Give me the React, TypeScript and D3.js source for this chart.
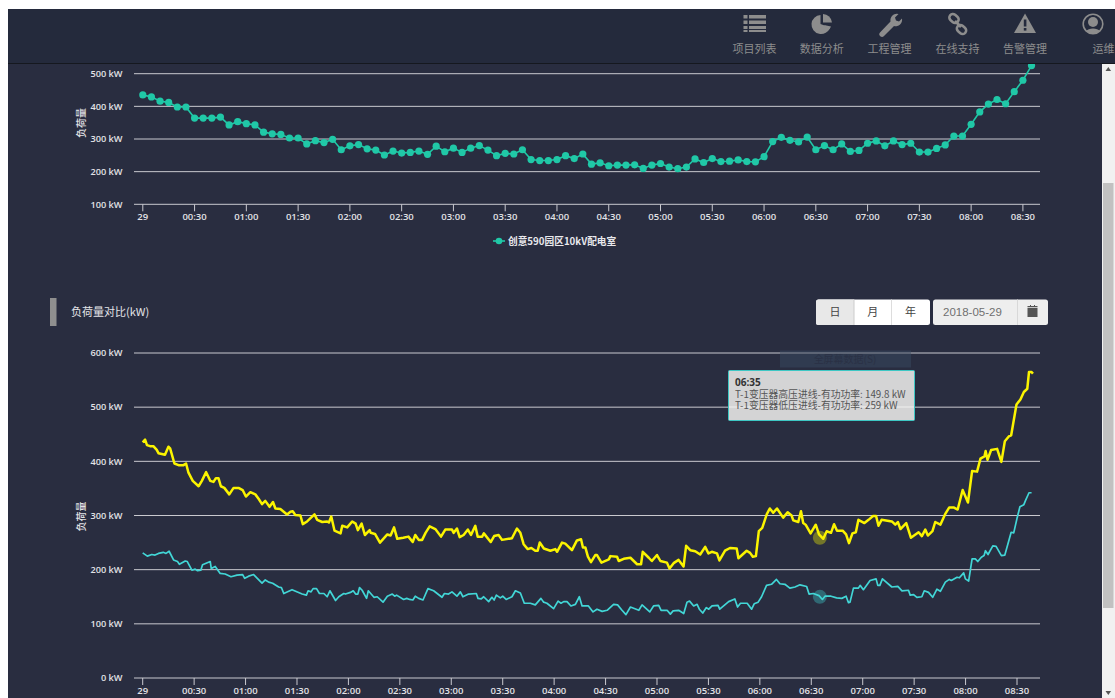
import React from "react";
import * as d3 from "d3";

const FONT = '"Open Sans","Noto Sans CJK SC",sans-serif';
const CJK = '"Noto Sans CJK SC","Open Sans",sans-serif';

const navLabels = ["项目列表", "数据分析", "工程管理", "在线支持", "告警管理", "运维"];
const topYTicks = [100, 200, 300, 400, 500];
const bottomYTicks = [0, 100, 200, 300, 400, 500, 600];
const xTickLabels = ["29", "00:30", "01:00", "01:30", "02:00", "02:30", "03:00", "03:30", "04:00", "04:30", "05:00", "05:30", "06:00", "06:30", "07:00", "07:30", "08:00", "08:30"];
const topName = "创意590园区10kV配电室";
const rangeButtons = ["日", "月", "年"];
const dateText = "2018-05-29";
const tooltipLines = ["06:35", "T-1变压器高压进线-有功功率: 149.8 kW", "T-1变压器低压进线-有功功率: 259 kW"];

// 5-minute load, top chart
const topValues = [435, 429, 416, 412, 398, 398, 364, 364, 364, 367, 343, 353, 347, 343, 321, 316, 314, 303, 303, 285, 295, 289, 299, 267, 279, 283, 270, 266, 251, 263, 257, 259, 263, 253, 278, 261, 272, 259, 272, 280, 266, 249, 256, 254, 267, 237, 234, 234, 237, 249, 240, 254, 223, 227, 218, 220, 220, 221, 210, 220, 225, 214, 209, 214, 239, 228, 240, 231, 232, 236, 231, 230, 246, 292, 305, 296, 291, 306, 267, 280, 267, 285, 262, 265, 287, 294, 279, 294, 283, 287, 260, 260, 271, 282, 309, 309, 345, 383, 407, 421, 408, 445, 480, 525];

// vertices: minutes after midnight, kW
const yellowMinutes = [0, 1.4, 2.5, 4.3, 6.2, 8.2, 9.2, 13, 15, 16, 18.5, 20.9, 23.8, 25.3, 26.7, 29.2, 32.6, 34.5, 37, 39.4, 41.3, 42.7, 44.2, 45.6, 47.6, 50.5, 53, 55.9, 58.3, 60.2, 62.8, 65.7, 67.6, 69.6, 71.5, 74, 76, 77.4, 80.3, 84.2, 86.2, 87.5, 89, 92, 93.4, 95.9, 100.2, 101.8, 104.7, 107.6, 108.6, 110, 111.9, 115.4, 116.4, 119.3, 122.2, 124.2, 125.5, 127.7, 129.6, 132.4, 133, 135.5, 138.4, 142.7, 144.6, 146.6, 148.5, 152, 155, 157.5, 159, 161, 163, 165, 167.4, 170.7, 174, 176.5, 180.4, 181.4, 183.3, 184.9, 187.2, 189.7, 191.5, 194, 195.4, 198, 199, 203, 205, 207.6, 209.6, 215.4, 218.3, 220.3, 222.2, 224.6, 226.7, 229, 230.4, 231.6, 234, 237.8, 240.7, 241.7, 244.6, 246.5, 250.4, 253.3, 255.7, 256.8, 258.2, 259.7, 261.5, 264, 265, 267.6, 271.9, 272.8, 276.7, 277.7, 280.6, 284.5, 288.4, 290.7, 291.7, 295.2, 297, 300, 302, 305.8, 307.3, 309.7, 312.6, 315.5, 317, 319.4, 322.3, 325.2, 328.1, 330, 332, 335, 336.4, 339.7, 342.6, 346.5, 347.5, 352.3, 354.3, 355.9, 357.7, 359.4, 361.4, 364, 365.8, 367.8, 370, 373.6, 376.2, 378.5, 379.5, 382.4, 384, 385.3, 386.7, 389.6, 392.6, 394.5, 397, 399, 401.5, 403.3, 405, 408.3, 410.3, 412, 414, 416, 417.5, 421, 423.4, 426, 427.8, 429.2, 431, 437, 439, 440.5, 442, 445.4, 448.1, 452.6, 454.5, 456.5, 458, 460.7, 462.3, 465.3, 468, 470.5, 473, 475.4, 478.3, 481.4, 483.8, 486.7, 488.7, 491, 491.7, 492.8, 494.9, 498.4, 500.9, 502.9, 505.2, 506.6, 509.7, 512, 514, 516, 517, 518.5, 519.3];
const yellowValues = [435, 440, 430, 428, 428, 421, 415, 412, 427, 424, 396, 393, 393, 396, 379, 364, 354, 364, 380, 364, 362, 369, 369, 354, 351, 339, 351, 351, 347, 335, 343, 339, 331, 321, 327, 316, 325, 313, 312, 302, 307, 308, 301, 300, 284, 289, 302, 292, 288, 289, 287, 298, 272, 267, 281, 278, 289, 285, 273, 285, 264, 273, 268, 266, 250, 265, 263, 278, 257, 259, 261, 251, 264, 255, 255, 268, 280, 275, 261, 274, 274, 268, 276, 260, 264, 274, 264, 281, 261, 261, 267, 251, 262, 264, 255, 258, 276, 268, 247, 238, 240, 235, 235, 250, 239, 235, 238, 233, 250, 248, 236, 254, 256, 241, 241, 224, 214, 227, 227, 213, 219, 225, 224, 216, 220, 222, 210, 210, 233, 222, 216, 227, 216, 213, 202, 212, 218, 206, 244, 236, 234, 228, 242, 230, 233, 230, 217, 235, 240, 239, 221, 235, 231, 224, 225, 271, 277, 302, 313, 305, 313, 296, 306, 300, 291, 288, 308, 286, 283, 267, 283, 265, 257, 271, 268, 284, 272, 272, 265, 249, 267, 269, 292, 286, 292, 299, 299, 281, 292, 289, 283, 288, 275, 286, 259, 269, 262, 274, 263, 271, 288, 283, 302, 315, 315, 311, 347, 324, 382, 381, 405, 409, 419, 403, 421, 423, 399, 437, 446, 448, 505, 514, 528, 534, 565, 565, 562];

const cyanMinutes = [0, 2.7, 5.3, 7.2, 9.2, 12, 13.6, 15.4, 18, 20.3, 21.4, 24.8, 26, 28.7, 30.6, 32, 33.9, 34.9, 39.4, 40, 42.3, 45.2, 48.1, 51.5, 55, 58.3, 59.5, 61.8, 64.7, 69.6, 71.5, 73.5, 75.8, 79.3, 80.9, 82.3, 87.1, 93, 95.5, 96.5, 98.2, 99.4, 101.4, 103.1, 105.7, 107.6, 109.2, 112.5, 114.4, 117.3, 118.3, 121.2, 122.8, 124.2, 125.5, 126.5, 128, 130.6, 131.6, 134.9, 136.8, 140.2, 142.7, 145.6, 147, 148.1, 152.2, 154, 155.7, 157.6, 159, 161, 163.5, 166.4, 169.7, 174.6, 176, 178.4, 180.4, 183.3, 185.3, 186.8, 190.1, 194.6, 195.6, 197.5, 198.9, 201.8, 203.7, 205, 206.3, 208.6, 210, 212, 215.4, 217.4, 220.3, 222.6, 226.1, 229, 232.3, 233.9, 235.8, 239.7, 242.3, 244, 245.6, 247.5, 249.8, 252.4, 254.7, 256.3, 260, 262.7, 265, 268, 270.9, 274.7, 277, 279.6, 281.9, 284.5, 289.4, 291.3, 295.8, 298, 301, 302.4, 305.9, 307.8, 309.4, 312.6, 315.6, 317.5, 319, 321.4, 323.4, 324.7, 326.7, 328.8, 330.2, 332.1, 335.6, 336.6, 339.9, 341.8, 345.4, 347, 348.7, 352.6, 355.2, 356.7, 359, 361, 363.9, 366.8, 369.7, 371.7, 374.6, 377.5, 380.5, 383.4, 387.3, 388.7, 391.2, 394.5, 396.5, 398, 401.5, 404.8, 407.8, 410.3, 411.7, 412.6, 414.6, 417.5, 418.5, 420.4, 424.3, 427.8, 428.8, 430, 431.5, 437, 440.5, 442.9, 446.7, 447.7, 449.7, 451.6, 454.5, 455.9, 458.4, 460.8, 463.3, 465.3, 468.2, 470.5, 471.7, 475, 476.4, 478.9, 479.9, 481.8, 483.8, 485.7, 487.1, 489.2, 490.8, 491.6, 493.1, 495.9, 497.8, 500.9, 502.9, 506.6, 508.1, 510.1, 511.7, 514, 515, 517, 518.5];
const cyanValues = [231, 225, 228, 227, 230, 232, 230, 234, 218, 215, 210, 216, 215, 199, 201, 198, 199, 209, 215, 202, 206, 193, 192, 187, 190, 191, 184, 188, 191, 175, 181, 177, 175, 168, 167, 156, 163, 155, 153, 161, 159, 165, 165, 156, 156, 150, 161, 143, 150, 156, 155, 158, 161, 155, 155, 167, 162, 147, 161, 149, 150, 140, 151, 155, 151, 153, 145, 147, 145, 144, 151, 147, 144, 165, 161, 149, 156, 155, 159, 151, 159, 150, 155, 156, 147, 146, 150, 141, 149, 144, 153, 148, 151, 145, 150, 161, 157, 138, 138, 135, 147, 140, 138, 128, 142, 138, 141, 141, 133, 136, 150, 133, 133, 122, 127, 123, 125, 136, 135, 125, 117, 131, 125, 135, 122, 133, 134, 125, 125, 118, 124, 125, 119, 140, 142, 133, 136, 127, 120, 130, 127, 133, 134, 127, 136, 141, 146, 131, 138, 138, 127, 137, 140, 150, 171, 173, 182, 174, 173, 166, 168, 172, 169, 155, 156, 152, 145, 151, 151, 148, 147, 151, 139, 140, 166, 166, 171, 163, 180, 183, 171, 171, 183, 168, 169, 161, 162, 153, 154, 149, 150, 161, 158, 149, 164, 160, 177, 182, 180, 186, 185, 194, 183, 179, 220, 220, 215, 223, 226, 235, 228, 244, 243, 226, 227, 269, 268, 296, 316, 320, 328, 342, 342];

const hoverMinute = 395;
const hoverValues = [259, 149.8];

const W = 1115, H = 698;
const HEAD = "#242a3c", BODY = "#292d40", GRID = "#c9c9cf", TXT = "#e2e2e6", NAV = "#8d8d8d";

export default function App() {
  // scales
  const xTop = d3.scaleLinear().domain([0, 510]).range([142.8, 1022.9]);
  const yTop = d3.scaleLinear().domain([100, 500]).range([204.3, 73.7]);
  const xBot = d3.scaleLinear().domain([0, 510]).range([142.7, 1017]);
  const yBot = d3.scaleLinear().domain([0, 600]).range([678, 353]);
  const topPath = d3.line<number>().x((_, i) => xTop(i * 5)).y((d) => yTop(d))(topValues) ?? "";
  const yellowPath = d3.line<number>().x((m) => xBot(m)).y((_, i) => yBot(yellowValues[i]))(yellowMinutes) ?? "";
  const cyanPath = d3.line<number>().x((m) => xBot(m)).y((_, i) => yBot(cyanValues[i]))(cyanMinutes) ?? "";

  const axisText = { fontFamily: FONT, fontSize: 9.5, fontWeight: 600, fill: TXT } as const;

  const renderAxes = (
    x: d3.ScaleLinear<number, number>,
    y: d3.ScaleLinear<number, number>,
    ticks: number[],
    base: number,
    titleY: number
  ) => (
    <g>
      {ticks.map((t) => (
        <g key={t}>
          <line x1={134} x2={1040} y1={y(t)} y2={y(t)} stroke={GRID} strokeWidth={1} />
          <text x={122.5} y={y(t) + 3.3} textAnchor="end" {...axisText} fontSize={9.2}>{t} kW</text>
        </g>
      ))}
      {xTickLabels.map((l, i) => (
        <g key={l}>
          <line x1={x(i * 30)} x2={x(i * 30)} y1={base} y2={base + 7} stroke={GRID} />
          <text x={x(i * 30)} y={base + 15.5} textAnchor="middle" {...axisText}>{l}</text>
        </g>
      ))}
      <text
        transform={`translate(85,${titleY}) rotate(-90)`}
        textAnchor="middle"
        style={{ fontFamily: CJK, fontSize: 10, fontWeight: 500, fill: TXT }}
      >负荷量</text>
    </g>
  );

  return (
    <svg width={W} height={H} style={{ position: "fixed", left: 0, top: 0, display: "block" }}>
      <rect width={W} height={H} fill="#fff" />
      <rect x={8} y={9} width={W - 8} height={H - 9} fill={BODY} />

      {/* top chart */}
      {renderAxes(xTop, yTop, topYTicks, 204.3, 123)}
      <path d={topPath} fill="none" stroke="#20c8a7" strokeWidth={1.6} />
      {topValues.map((v, i) => (
        <circle key={i} cx={xTop(i * 5)} cy={yTop(v)} r={3.6} fill="#20c8a7" />
      ))}
      <line x1={493} x2={505} y1={241} y2={241} stroke="#20c8a7" strokeWidth={1.6} />
      <circle cx={499} cy={241} r={3.3} fill="#20c8a7" />
      <text x={508} y={244.5} style={{ fontFamily: CJK, fontSize: 9.7, fontWeight: 700, fill: "#e8e8ec" }}>{topName}</text>

      {/* section heading */}
      <rect x={50} y={298} width={6.5} height={28} fill="#8f8f8f" />
      <text x={71} y={316} style={{ fontFamily: CJK, fontSize: 11, fill: "#e4e4e8" }}>负荷量对比(kW)</text>

      {/* range buttons */}
      <rect x={816} y={299.5} width={114} height={25.5} rx={2.5} fill="#fff" />
      <path d="M818.5 299.5H854V325H818.5a2.5 2.5 0 0 1-2.5-2.5v-20.5a2.5 2.5 0 0 1 2.5-2.5z" fill="#e8e8e8" />
      <line x1={854} x2={854} y1={299.5} y2={325} stroke="#ccc" />
      <line x1={891.5} x2={891.5} y1={299.5} y2={325} stroke="#ddd" />
      {rangeButtons.map((b, i) => (
        <text key={b} x={835 + i * 37.8} y={316} textAnchor="middle" style={{ fontFamily: CJK, fontSize: 11, fill: "#444" }}>{b}</text>
      ))}
      <rect x={933} y={299.5} width={115} height={25.5} rx={2.5} fill="#eeeeee" />
      <line x1={1017.5} x2={1017.5} y1={299.5} y2={325} stroke="#d8d8d8" />
      <text x={943} y={316} style={{ fontFamily: '"Liberation Sans",sans-serif', fontSize: 11.5, fill: "#707070" }}>{dateText}</text>
      <path d="M1027.5 308h10v9h-10zM1027.5 306h10v1.2h-10zM1030 305h1v1.5h-1zM1034 305h1v1.5h-1z" fill="#555" />

      {/* bottom chart */}
      {renderAxes(xBot, yBot, bottomYTicks, 678, 516.5)}
      <rect x={780} y={350.5} width={131} height={17} fill="#303b50" />
      <text x={845} y={362.5} textAnchor="middle" style={{ fontFamily: CJK, fontSize: 10, fill: "#2a3145" }}>全屏幕数据(S)</text>
      <line x1={780} x2={911} y1={353} y2={353} stroke={GRID} strokeOpacity={0.6} />
      <circle cx={xBot(hoverMinute)} cy={yBot(hoverValues[0])} r={7} fill="#ffff00" opacity={0.35} />
      <circle cx={xBot(hoverMinute)} cy={yBot(hoverValues[1])} r={7} fill="#40d8d8" opacity={0.35} />
      <path d={cyanPath} fill="none" stroke="#42d6d6" strokeWidth={1.7} strokeLinejoin="round" />
      <path d={yellowPath} fill="none" stroke="#fbf400" strokeWidth={2.5} strokeLinejoin="round" />

      {/* tooltip */}
      <rect x={728.5} y={370.5} width={186} height={50} rx={1} fill="#dadada" fillOpacity={0.97} stroke="#3ec7c4" strokeWidth={1} />
      <line x1={729} x2={914} y1={407} y2={407} stroke="#f4f4f4" strokeWidth={0.8} />
      <text x={735} y={385.5} style={{ fontFamily: FONT, fontSize: 10, fontWeight: 700, fill: "#333" }}>{tooltipLines[0]}</text>
      <text x={735} y={397.5} style={{ fontFamily: CJK, fontSize: 9.8, fill: "#555" }}>{tooltipLines[1]}</text>
      <text x={735} y={409} style={{ fontFamily: CJK, fontSize: 9.8, fill: "#555" }}>{tooltipLines[2]}</text>

      {/* header */}
      <rect x={8} y={9} width={W - 8} height={54} fill={HEAD} />
      <line x1={8} x2={W} y1={63.5} y2={63.5} stroke="#15181f" />
      {/* list */}
      <path d="M743.5 15h4v3.5h-4zM749 15h17v3.5h-17zM743.5 20.5h4v3.5h-4zM749 20.5h17v3.5h-17zM743.5 26h4v3h-4zM749 26h17v3h-17zM743.5 30h4v2h-4zM749 30h17v2h-17z" fill={NAV} />
      {/* pie */}
      <path d="M820.5 15a9.5 9.5 0 1 0 9.5 12.5l-9.5-3.5z" fill={NAV} />
      <path d="M823 14a9.5 9.5 0 0 1 9 8.5h-9z" fill={NAV} />
      <path d="M824 25l7 1.5a8 8 0 0 1-3 4z" fill={NAV} />
      {/* wrench */}
      <path d="M880 32.5l10.5-11a6.5 6.5 0 0 1 8-7.5l-3.5 3.5 1 3 3 1 3-3a6.5 6.5 0 0 1-8 7.5l-10 10a2.5 2.5 0 0 1-4-3.5z" fill={NAV} />
      {/* link */}
      <g fill="none" stroke={NAV} strokeWidth={2.6}>
        <rect x={949} y={15} width={10} height={7} rx={3.5} transform="rotate(40 954 18.5)" />
        <rect x={956.5} y={26} width={10} height={7} rx={3.5} transform="rotate(40 961.5 29.5)" />
        <line x1={955} y1={21} x2={961} y2={27} />
      </g>
      {/* warning */}
      <path d="M1025 13.5l11 19.5h-22z" fill={NAV} />
      <rect x={1023.8} y={19.5} width={2.6} height={7} fill={HEAD} />
      <rect x={1023.8} y={28} width={2.6} height={2.6} fill={HEAD} />
      {/* user */}
      <circle cx={1093} cy={24} r={9.8} fill={HEAD} stroke={NAV} strokeWidth={1.6} />
      <circle cx={1093} cy={22} r={5} fill={NAV} />
      <path d="M1086 31a8 5 0 0 1 14 0a9.5 9.5 0 0 1-14 0z" fill={NAV} />
      {navLabels.map((l, i) =>
        i < 5 ? (
          <text key={l} x={[754.6, 821.8, 889.6, 957.5, 1025][i]} y={53} textAnchor="middle" style={{ fontFamily: CJK, fontSize: 11, fill: NAV }}>{l}</text>
        ) : (
          <text key={l} x={1092.5} y={53} style={{ fontFamily: CJK, fontSize: 11, fill: NAV }}>{l}</text>
        )
      )}

      {/* scrollbar */}
      <rect x={1102} y={64} width={13} height={634} fill="#f1f1f1" />
      <rect x={1103} y={183} width={10.5} height={425} fill="#c1c1c1" />
      <path d="M1108.3 67l2.8 4h-5.6z" fill="#555" />
      <path d="M1108.3 695l2.8-4h-5.6z" fill="#555" />
    </svg>
  );
}
